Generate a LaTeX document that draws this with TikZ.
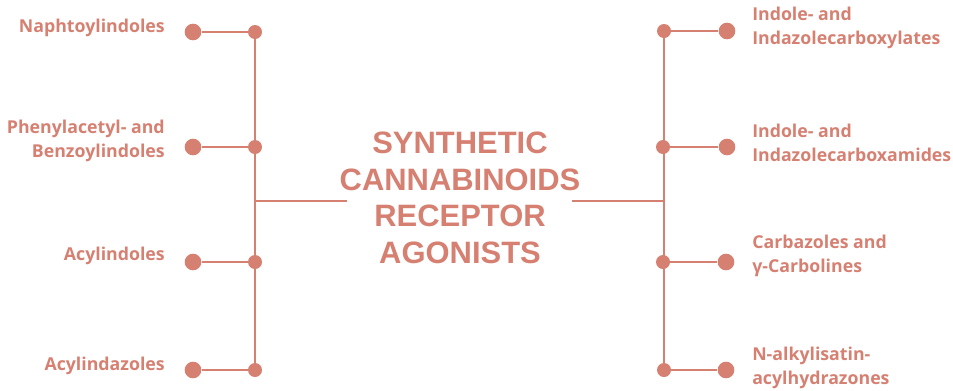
\documentclass[tikz,border=0pt]{standalone}
\usepackage{fontspec}
\usepackage{tikz}
\usetikzlibrary{positioning}
\setmainfont{Open Sans}
\newfontfamily\headfont{Liberation Sans}
\definecolor{csalmon}{HTML}{D68072}

\tikzset{
  bigdot/.style={circle, fill=csalmon, inner sep=0pt, minimum size=12.5pt},
  smalldot/.style={circle, fill=csalmon, inner sep=0pt, minimum size=10.5pt},
  link/.style={draw=csalmon, line width=2.2pt},
  leftlabel/.style={font=\fontsize{13.3}{18.5}\selectfont\bfseries, text=csalmon, align=right, anchor=east, inner sep=0pt},
  rightlabel/.style={font=\fontsize{13.3}{18.5}\selectfont\bfseries, text=csalmon, align=left, anchor=west, inner sep=0pt}
}

\begin{document}
\begin{tikzpicture}[x=0.75pt, y=-0.75pt]
\useasboundingbox (0,0) rectangle (953,390);

% title
\node[font=\headfont\fontsize{23.2}{27.5}\selectfont\bfseries, text=csalmon, align=center]
  (title) at (460,198) {SYNTHETIC\\CANNABINOIDS\\RECEPTOR\\AGONISTS};
\coordinate (lhub) at (256,201);
\coordinate (rhub) at (663,201);
\coordinate (ltip) at (347,201);
\coordinate (rtip) at (572,201);

% left branch
\node[smalldot] (l1j) at (255,32) {};
\node[smalldot] (l2j) at (255,147) {};
\node[smalldot] (l3j) at (255,262) {};
\node[smalldot] (l4j) at (255,370) {};
\node[bigdot] (l1e) at (193,32) {};
\node[bigdot] (l2e) at (193,147) {};
\node[bigdot] (l3e) at (193,262) {};
\node[bigdot] (l4e) at (193,370) {};
\draw[link] (l1j) -- (l4j);
\draw[link] (lhub) -- (ltip);
\foreach \i in {1,...,4}
  \draw[link] (l\i e) -- (l\i j);

\node[leftlabel] (lab1) at (165,28) {Naphtoylindoles};
\node[leftlabel] (lab2) at (165,141) {Phenylacetyl- and\\Benzoylindoles};
\node[leftlabel] (lab3) at (165,256) {Acylindoles};
\node[leftlabel] (lab4) at (165,366) {Acylindazoles};

% right branch
\node[smalldot] (r1j) at (664,31) {};
\node[smalldot] (r2j) at (663,147) {};
\node[smalldot] (r3j) at (663,262) {};
\node[smalldot] (r4j) at (664,370) {};
\node[bigdot] (r1e) at (727,31) {};
\node[bigdot] (r2e) at (727,147) {};
\node[bigdot] (r3e) at (726,262) {};
\node[bigdot] (r4e) at (726,370) {};
\draw[link] (r1j) -- (r4j);
\draw[link] (rtip) -- (rhub);
\foreach \i in {1,...,4}
  \draw[link] (r\i j) -- (r\i e);

\node[rightlabel] (rab1) at (752,28) {Indole- and\\Indazolecarboxylates};
\node[rightlabel] (rab2) at (752,143) {Indole- and\\Indazolecarboxamides};
\node[rightlabel] (rab3) at (752,256) {Carbazoles and\\γ-Carbolines};
\node[rightlabel] (rab4) at (752,368) {N-alkylisatin-\\acylhydrazones};
\end{tikzpicture}
\end{document}
